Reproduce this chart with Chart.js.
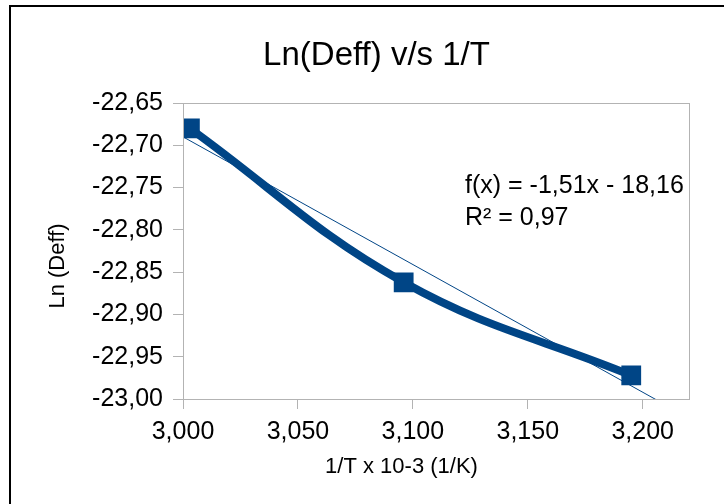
<!DOCTYPE html>
<html>
<head>
<meta charset="utf-8">
<script src="https://cdn.jsdelivr.net/npm/chart.js@4"></script>
<style>
  html, body { margin: 0; padding: 0; background: #fff; overflow: hidden; }
  .frame {
    position: absolute; left: 9px; top: 5px;
    width: 731px; height: 520px;
    border-left: 2px solid #000; border-top: 2px solid #000;
  }
  canvas { display: block; }
</style>
</head>
<body>
<div class="frame"><canvas id="arrhenius" width="731" height="520"></canvas></div>
<script>
// 1/T (x 10-3, 1/K) against ln of the effective diffusivity
const invT = [3.003, 3.096, 3.195];
const lnDeff = [-22.68, -22.862, -22.972];

// linear trend as printed on the chart
const slope = -1.51;
const intercept = -18.16;
const trendX = [3.0, 3.22];

const xTicks = { min: 3.0, max: 3.22, step: 0.05 };
const yTicks = { min: -23.0, max: -22.65, step: 0.05 };

const blue = '#004586';
const font = '"Liberation Sans", Arial, sans-serif';

const comma = (v, d) => Number(v).toFixed(d).replace('.', ',');

const points = invT.map((x, i) => ({ x: x, y: lnDeff[i] }));
const trend = trendX.map(x => ({ x: x, y: slope * x + intercept }));

// box around the plot, the regression text and the axis titles
const extras = {
  id: 'extras',
  afterDraw(chart) {
    const ctx = chart.ctx;
    const a = chart.chartArea;
    ctx.save();
    ctx.strokeStyle = '#b3b3b3';
    ctx.lineWidth = 1;
    ctx.strokeRect(Math.round(a.left) + 0.5, Math.round(a.top) + 0.5,
      Math.round(a.right - a.left), Math.round(a.bottom - a.top));

    ctx.fillStyle = '#000';
    ctx.textAlign = 'left';
    ctx.textBaseline = 'alphabetic';
    ctx.font = '25px ' + font;
    ctx.fillText('f(x) = ' + comma(slope, 2) + 'x - ' + comma(-intercept, 2), 454, 186);
    ctx.fillText('R² = 0,97', 454, 218);

    ctx.font = '22px ' + font;
    ctx.textAlign = 'center';
    ctx.textBaseline = 'middle';
    ctx.fillText('1/T x 10-3 (1/K)', 390.5, 460);

    ctx.translate(46.5, 259);
    ctx.rotate(-Math.PI / 2);
    ctx.fillText('Ln (Deff)', 0, 0);
    ctx.restore();
  }
};

const ctx = document.getElementById('arrhenius').getContext('2d');
new Chart(ctx, {
  type: 'line',
  data: {
    datasets: [{
      label: 'Ln (Deff)',
      data: points,
      borderColor: blue,
      backgroundColor: blue,
      borderWidth: 8,
      tension: 0.4,
      pointStyle: 'rect',
      pointRadius: 14,
      pointBorderWidth: 0,
      pointHoverRadius: 14
    }, {
      label: 'trend',
      data: trend,
      borderColor: blue,
      borderWidth: 1,
      pointRadius: 0,
      tension: 0
    }]
  },
  options: {
    responsive: false,
    animation: false,
    plugins: {
      legend: { display: false },
      tooltip: { enabled: false },
      title: {
        display: true,
        text: 'Ln(Deff) v/s 1/T',
        color: '#000',
        font: { family: font, size: 33, weight: 'normal' },
        padding: { top: 29, bottom: 27.4 }
      }
    },
    scales: {
      x: {
        type: 'linear',
        min: xTicks.min,
        max: xTicks.max,
        afterFit: s => { s.height = 128; },
        border: { display: true, color: '#b3b3b3' },
        grid: { drawOnChartArea: false, drawTicks: true, tickLength: 10, color: '#b3b3b3' },
        ticks: {
          stepSize: xTicks.step,
          includeBounds: false,
          color: '#000',
          padding: 8,
          maxRotation: 0,
          font: { family: font, size: 25 },
          callback: v => comma(v, 3)
        }
      },
      y: {
        min: yTicks.min,
        max: yTicks.max,
        afterFit: s => { s.width = 172; },
        border: { display: true, color: '#b3b3b3' },
        grid: { drawOnChartArea: false, drawTicks: true, tickLength: 10, color: '#b3b3b3' },
        ticks: {
          stepSize: yTicks.step,
          color: '#000',
          padding: 10,
          font: { family: font, size: 25 },
          callback: v => comma(v, 2)
        }
      },
      // empty strip on the right so the plot stops short of the edge
      gap: {
        position: 'right',
        min: 0,
        max: 1,
        afterFit: s => { s.width = 53.3; },
        border: { display: false },
        grid: { display: false },
        ticks: { display: false }
      }
    }
  },
  plugins: [extras]
});
</script>
</body>
</html>
